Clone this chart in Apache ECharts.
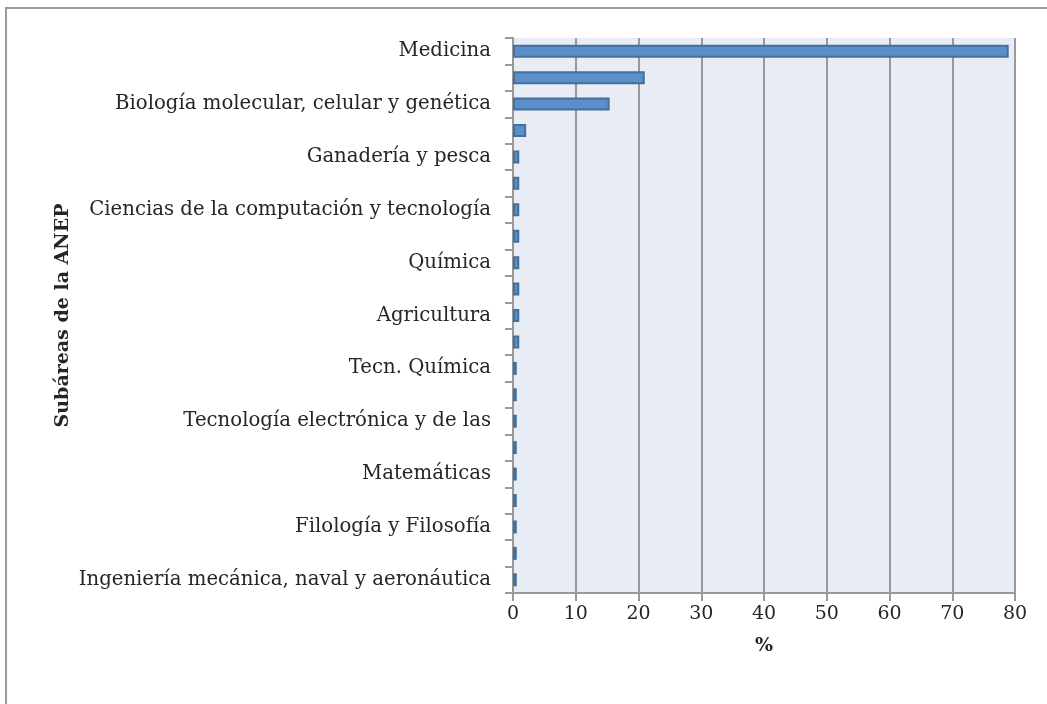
<!DOCTYPE html>
<html>
<head>
<meta charset="utf-8">
<script src="https://cdn.jsdelivr.net/npm/echarts@6/dist/echarts.min.js"></script>
<style>
  html, body { margin: 0; padding: 0; background: #fff; }
  #chart { width: 1047px; height: 704px; }
</style>
</head>
<body>
<div id="chart"></div>
<script>
// categories top to bottom; unnamed rows only carry a placeholder (label hidden in the original)
const categories = [
  'Medicina', '·2', 'Biología molecular, celular y genética', '·4',
  'Ganadería y pesca', '·6', 'Ciencias de la computación y tecnología', '·8',
  'Química', '·10', 'Agricultura', '·12', 'Tecn. Química', '·14',
  'Tecnología electrónica y de las', '·16', 'Matemáticas', '·18',
  'Filología y Filosofía', '·20', 'Ingeniería mecánica, naval y aeronáutica'
]
const values = [
  79, 21, 15.4, 2.1,
  1.0, 1.0, 1.0, 1.0,
  1.0, 1.0, 1.0, 1.0, 0.6, 0.6,
  0.6, 0.6, 0.6, 0.6,
  0.6, 0.6, 0.6
]
const xTicks = [0, 80, 10] // min, max, interval

const font = "'DejaVu Serif', serif"
const gray = '#999999'

const chart = echarts.init(document.getElementById('chart'))
chart.setOption({
  animation: false,
  textStyle: { fontFamily: font },
  grid: {
    left: 513,
    right: 32,
    top: 38,
    bottom: 111,
    show: true,
    backgroundColor: '#E8ECF4',
    borderWidth: 0
  },
  graphic: [
    {
      type: 'rect',
      shape: { x: 6, y: 8, width: 1200, height: 900 },
      style: { fill: 'none', stroke: '#9a9a9a', lineWidth: 2 },
      silent: true
    }
  ],
  xAxis: {
    type: 'value',
    min: xTicks[0],
    max: xTicks[1],
    interval: xTicks[2],
    name: '%',
    nameLocation: 'middle',
    nameGap: 44,
    nameTextStyle: { fontSize: 19, fontWeight: 'bold', color: '#262626', fontFamily: font },
    axisLine: { show: true, lineStyle: { color: gray, width: 2 } },
    axisTick: { show: true, length: 8, lineStyle: { color: gray, width: 2 } },
    axisLabel: { fontSize: 19, color: '#262626', margin: 12, fontFamily: font },
    splitLine: { show: true, lineStyle: { color: gray, width: 2 } }
  },
  yAxis: {
    type: 'category',
    inverse: true,
    data: categories,
    name: 'Subáreas de la ANEP',
    nameLocation: 'middle',
    nameGap: 440,
    nameTextStyle: { fontSize: 19, fontWeight: 'bold', color: '#262626', fontFamily: font },
    axisLine: { show: true, lineStyle: { color: gray, width: 2 } },
    axisTick: { show: true, interval: 0, length: 8, lineStyle: { color: gray, width: 2 } },
    axisLabel: { interval: 1, fontSize: 19.7, color: '#262626', margin: 22, fontFamily: font },
    splitLine: { show: false }
  },
  series: [
    {
      type: 'bar',
      data: values,
      barWidth: 13,
      itemStyle: { color: '#5B8FC9', borderColor: '#41719C', borderWidth: 2 }
    }
  ]
})
</script>
</body>
</html>
